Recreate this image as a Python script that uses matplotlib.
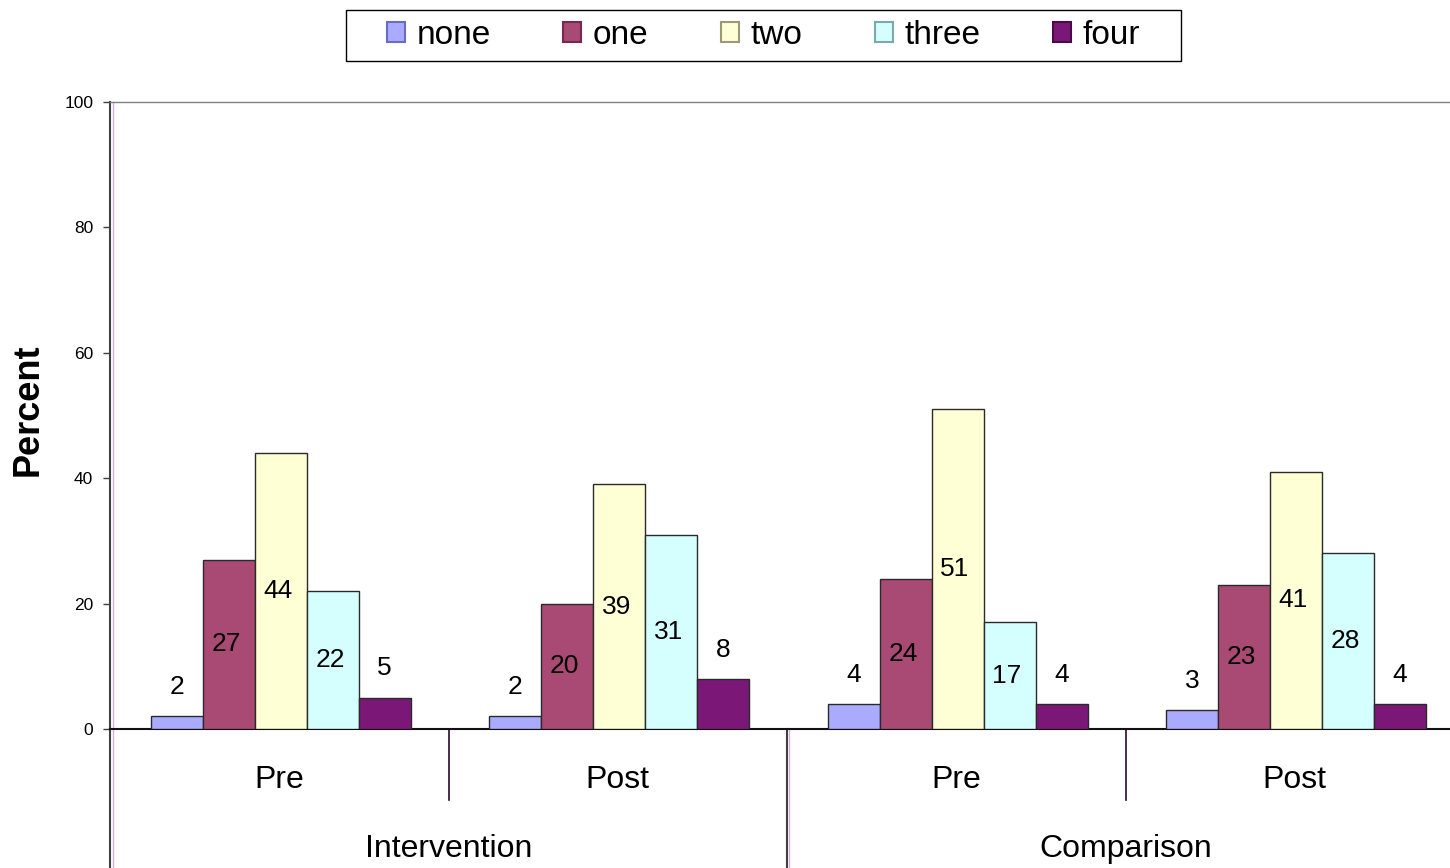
import matplotlib
matplotlib.use('Agg')
import matplotlib.pyplot as plt
from matplotlib.patches import Rectangle, Patch
from matplotlib import font_manager
import matplotlib.transforms as mtransforms
import numpy as np

plt.rcParams['font.family'] = ['Liberation Sans', 'DejaVu Sans']

# Data
periods = ['Pre', 'Post', 'Pre', 'Post']
groups = ['Intervention', 'Comparison']
series = ['none', 'one', 'two', 'three', 'four']
none_vals = [2, 2, 4, 3]
one_vals = [27, 20, 24, 23]
two_vals = [44, 39, 51, 41]
three_vals = [22, 31, 17, 28]
four_vals = [5, 8, 4, 4]
yticks = [0, 20, 40, 60, 80, 100]

values = [none_vals, one_vals, two_vals, three_vals, four_vals]
fills = ['#AAAAFF', '#A94A74', '#FFFFD6', '#D5FFFF', '#7B1877']
legend_edges = ['#6A6AC8', '#7A2852', '#9A9A78', '#7AAAAA', '#4A0A48']

W, H = 1450, 868
fig = plt.figure(figsize=(W / 100, H / 100), dpi=100)
ax = fig.add_axes([110 / W, (H - 729) / H, 1354 / W, 627 / H])

x = np.arange(len(periods))
bw = 0.1536
for i, (vals, c) in enumerate(zip(values, fills)):
    xs = x + (i - 2) * bw + 0.004
    ax.bar(xs, vals, bw, color=c, edgecolor='#2a2a2a', linewidth=1.0, zorder=3)
    for xi, v in zip(xs, vals):
        if v < 10:
            ax.annotate(f'{v}', (xi, v), xytext=(0, 21), textcoords='offset points',
                        ha='center', va='center', fontsize=19, zorder=4)
        else:
            ax.text(xi - 0.008, v / 2, f'{v}', ha='center', va='center', fontsize=19, zorder=4)

ax.set_xlim(-0.5, 3.5)
ax.set_ylim(0, 100)
ax.set_xticks([])
ax.set_yticks(yticks)
ax.tick_params(axis='y', length=5, width=1, color='#404040', labelsize=12.5, pad=7)

ax.spines['top'].set_color('#808080')
ax.spines['top'].set_linewidth(1.0)
ax.spines['right'].set_visible(False)
ax.spines['bottom'].set_color('#111111')
ax.spines['bottom'].set_linewidth(1.5)
ax.spines['left'].set_color('#404040')
ax.spines['left'].set_linewidth(1.5)

# Category axis below the plot
trans = ax.get_xaxis_transform()
bottom_y = -139 / 627
for xi, p in zip(x, periods):
    ax.text(xi, -51 / 627, p, transform=trans, ha='center', va='center', fontsize=23)
for gi, g in enumerate(groups):
    ax.text(0.5 + 2 * gi, -120 / 627, g, transform=trans, ha='center', va='center', fontsize=23)

for sx in [0.5, 2.5]:
    ax.plot([sx, sx], [0, -71 / 627], transform=trans, color='#2a0a2a', lw=1.2, clip_on=False)
for sx in [-0.5, 1.5]:
    ax.plot([sx, sx], [0, bottom_y], transform=trans, color='#404040', lw=1.5, clip_on=False)

shift = mtransforms.ScaledTranslation(2.5 / 100, 0, fig.dpi_scale_trans)
ax.plot([-0.5, -0.5], [1, bottom_y], transform=trans + shift, color='#D8B0DC', lw=1.0, clip_on=False)
ax.plot([1.5, 1.5], [0, bottom_y], transform=trans + shift, color='#D8B0DC', lw=1.0, clip_on=False)

fig.text(28 / W, 1 - 410 / H, 'Percent', rotation=90, ha='center', va='center',
         fontsize=26, fontweight='bold')

# Legend (condensed face when available)
installed = {f.name for f in font_manager.fontManager.ttflist}
if 'Liberation Sans Narrow' in installed:
    leg_family, leg_size = 'Liberation Sans Narrow', 28
else:
    leg_family, leg_size = 'Liberation Sans', 24
em_px = leg_size * 100 / 72
handles = [Patch(facecolor=f, edgecolor=e, linewidth=1.5) for f, e in zip(fills, legend_edges)]
fig.legend(handles, series, loc='center', bbox_to_anchor=(763.5 / W, 1 - 35.5 / H), ncol=5,
           frameon=False, prop={'family': leg_family, 'size': leg_size},
           handlelength=18 / em_px, handleheight=18 / em_px,
           handletextpad=12 / em_px, columnspacing=72 / em_px)
fig.patches.append(Rectangle((346 / W, 1 - 61 / H), 835 / W, 51 / H, transform=fig.transFigure,
                             fill=False, edgecolor='black', lw=1.0))

fig.savefig('out.png', dpi=100)
